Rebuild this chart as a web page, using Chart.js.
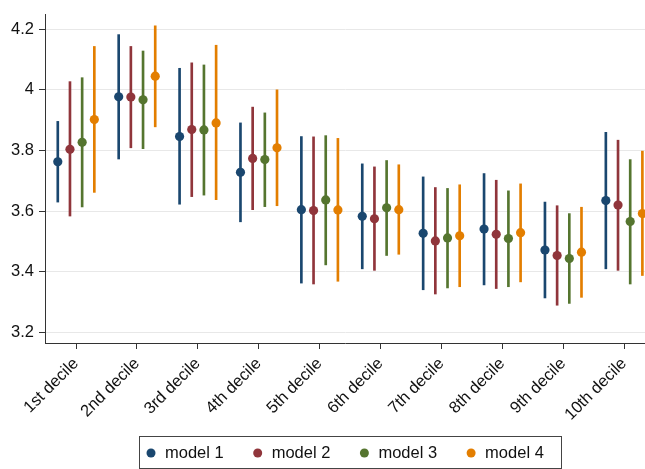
<!DOCTYPE html>
<html>
<head>
<meta charset="utf-8">
<script src="https://cdn.jsdelivr.net/npm/chart.js@4.4.1/dist/chart.umd.min.js"></script>
<style>
  html, body { margin: 0; padding: 0; background: #fff; }
  #wrap { width: 645px; height: 469px; }
</style>
</head>
<body>
<div id="wrap"><canvas id="decileChart" width="645" height="469"></canvas></div>
<script>
const deciles = ["1st decile", "2nd decile", "3rd decile", "4th decile", "5th decile",
  "6th decile", "7th decile", "8th decile", "9th decile", "10th decile"];
const models = ["model 1", "model 2", "model 3", "model 4"];
const yTicks = [3.2, 3.4, 3.6, 3.8, 4, 4.2];

// point estimates and 95% bounds
const model1Est = [3.763, 3.977, 3.846, 3.728, 3.605, 3.583, 3.527, 3.541, 3.472, 3.635];
const model1Low = [3.630, 3.772, 3.623, 3.565, 3.363, 3.410, 3.341, 3.357, 3.314, 3.410];
const model1High = [3.896, 4.182, 4.071, 3.891, 3.846, 3.756, 3.713, 3.724, 3.630, 3.860];

const model2Est = [3.804, 3.976, 3.869, 3.774, 3.602, 3.575, 3.502, 3.524, 3.454, 3.620];
const model2Low = [3.584, 3.809, 3.648, 3.605, 3.360, 3.405, 3.327, 3.345, 3.290, 3.405];
const model2High = [4.027, 4.143, 4.089, 3.943, 3.845, 3.746, 3.678, 3.702, 3.618, 3.834];

const model3Est = [3.827, 3.967, 3.868, 3.770, 3.637, 3.611, 3.512, 3.510, 3.444, 3.566];
const model3Low = [3.614, 3.806, 3.653, 3.615, 3.423, 3.454, 3.347, 3.351, 3.296, 3.360];
const model3High = [4.040, 4.128, 4.082, 3.924, 3.849, 3.767, 3.675, 3.667, 3.592, 3.770];

const model4Est = [3.902, 4.045, 3.891, 3.809, 3.604, 3.605, 3.519, 3.529, 3.465, 3.592];
const model4Low = [3.662, 3.878, 3.638, 3.618, 3.369, 3.458, 3.351, 3.367, 3.316, 3.388];
const model4High = [4.143, 4.211, 4.147, 4.000, 3.840, 3.753, 3.687, 3.690, 3.613, 3.798];

const estimates = [model1Est, model2Est, model3Est, model4Est];
const lows = [model1Low, model2Low, model3Low, model4Low];
const highs = [model1High, model2High, model3High, model4High];

const colors = ["#1a476f", "#90353b", "#55752f", "#e37e00"];
const dodge = [-0.3, -0.1, 0.1, 0.3];
const font = { family: "'Liberation Sans', Arial, sans-serif", size: 16.5 };
const axisColor = "#333";

const datasets = [];
models.forEach((name, m) => {
  datasets.push({
    type: "bar",
    label: name + " CI",
    data: deciles.map((d, i) => ({ x: i + 1 + dodge[m], y: [lows[m][i], highs[m][i]] })),
    backgroundColor: colors[m],
    borderWidth: 0,
    barThickness: 2,
    grouped: false,
    order: 2
  });
});
models.forEach((name, m) => {
  datasets.push({
    type: "scatter",
    label: name,
    data: deciles.map((d, i) => ({ x: i + 1 + dodge[m], y: estimates[m][i] })),
    backgroundColor: colors[m],
    borderWidth: 0,
    pointRadius: 4.6,
    order: 1
  });
});

// Stata-style boxed legend under the axis
const boxedLegend = {
  id: "boxedLegend",
  afterDraw(chart) {
    const ctx = chart.ctx;
    const cx = 350, top = 436, w = 422, h = 32;
    ctx.save();
    ctx.strokeStyle = "#444";
    ctx.lineWidth = 1;
    ctx.strokeRect(Math.round(cx - w / 2) + 0.5, top + 0.5, w, h);
    ctx.font = font.size + "px " + font.family;
    ctx.textBaseline = "middle";
    ctx.textAlign = "left";
    let x = cx - w / 2 + 12;
    const y = top + h / 2 + 1;
    models.forEach((name, m) => {
      ctx.fillStyle = colors[m];
      ctx.beginPath();
      ctx.arc(x, y, 4.5, 0, Math.PI * 2);
      ctx.fill();
      ctx.fillStyle = "#111";
      ctx.fillText(name, x + 14, y);
      x += 14 + ctx.measureText(name).width + 34;
    });
    ctx.restore();
  }
};

new Chart(document.getElementById("decileChart"), {
  type: "scatter",
  data: { datasets: datasets },
  options: {
    responsive: false,
    animation: false,
    events: [],
    layout: { autoPadding: false, padding: { top: 8, right: 0, bottom: 0, left: 0 } },
    plugins: {
      legend: { display: false },
      tooltip: { enabled: false }
    },
    scales: {
      x: {
        type: "linear",
        offset: false,
        min: 0.49,
        max: 10.343,
        afterBuildTicks: scale => { scale.ticks = deciles.map((d, i) => ({ value: i + 1 })); },
        afterFit: scale => { scale.height = 126; },
        grid: { offset: false, drawOnChartArea: false, tickLength: 6, tickColor: axisColor },
        border: { color: axisColor, width: 1 },
        ticks: {
          autoSkip: false,
          minRotation: 45,
          maxRotation: 45,
          padding: 5,
          color: "#111",
          font: font,
          callback: v => deciles[v - 1]
        }
      },
      y: {
        beginAtZero: false,
        min: 3.1655,
        max: 4.247,
        afterBuildTicks: scale => { scale.ticks = yTicks.map(v => ({ value: v })); },
        afterFit: scale => { scale.width = 45; },
        grid: { color: "#e8e8e8", tickLength: 6, tickColor: axisColor },
        border: { color: axisColor, width: 1 },
        ticks: {
          padding: 5,
          color: "#111",
          font: font,
          callback: v => String(+v.toFixed(1))
        }
      }
    }
  },
  plugins: [boxedLegend]
});
</script>
</body>
</html>
